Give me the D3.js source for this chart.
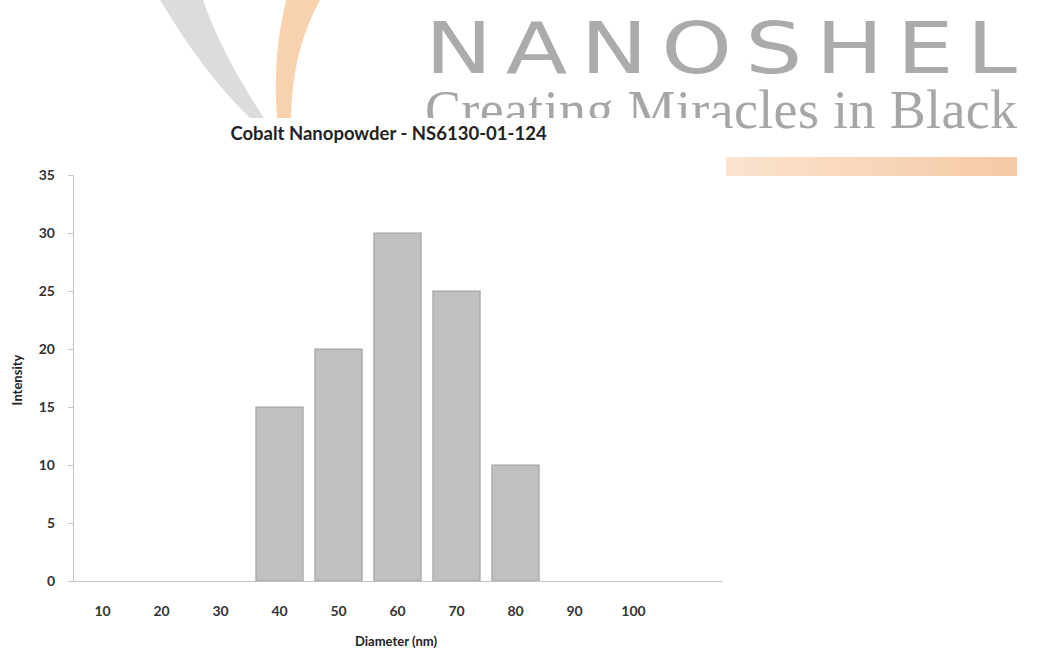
<!DOCTYPE html>
<html>
<head>
<meta charset="utf-8">
<script src="https://cdn.jsdelivr.net/npm/d3@7"></script>
<style>
  html, body { margin: 0; padding: 0; background: #fff; }
  svg { display: block; }
</style>
</head>
<body>
<svg id="chart" width="1037" height="651"></svg>
<script>
// ---- data ----
const categories = ["10", "20", "30", "40", "50", "60", "70", "80", "90", "100", ""];
const intensity = [0, 0, 0, 15, 20, 30, 25, 10, 0, 0, 0];
const yTicks = [0, 5, 10, 15, 20, 25, 30, 35];
const chartTitle = "Cobalt Nanopowder - NS6130-01-124";
const xTitle = "Diameter (nm)";
const yTitle = "Intensity";
const brandName = "NANOSHEL";
const brandTagline = "Creating Miracles in Black";

const svg = d3.select("#chart");

// ---- watermark / logo ----
const logo = svg.append("g");
logo.append("path")
  .attr("d", "M160,0 Q205,75 250,118 L264,118 Q222,55 203,0 Z")
  .attr("fill", "#dcdcdc");
logo.append("path")
  .attr("d", "M286,0 Q272,60 277,118 L291,118 Q292,50 320,0 Z")
  .attr("fill", "#f8d2ae");
logo.append("text")
  .attr("transform", "translate(425,73) scale(1.25,1)")
  .attr("font-family", "DejaVu Sans")
  .attr("font-size", 72)
  .attr("fill", "#ababab")
  .attr("textLength", 473.6)
  .attr("lengthAdjust", "spacing")
  .text(brandName);
logo.append("text")
  .attr("x", 425).attr("y", 128)
  .attr("font-family", "Liberation Serif")
  .attr("font-size", 54)
  .attr("fill", "#a6a6a6")
  .attr("textLength", 592)
  .attr("lengthAdjust", "spacing")
  .text(brandTagline);
const defs = svg.append("defs");
const grad = defs.append("linearGradient").attr("id", "bar-grad");
grad.append("stop").attr("offset", "0%").attr("stop-color", "#fbe3cf");
grad.append("stop").attr("offset", "100%").attr("stop-color", "#f5c9a5");
logo.append("rect")
  .attr("x", 726).attr("y", 157).attr("width", 291).attr("height", 19)
  .attr("fill", "url(#bar-grad)");

// chart panel covering the watermark
svg.append("rect")
  .attr("x", 0).attr("y", 118).attr("width", 725).attr("height", 533)
  .attr("fill", "#fff");

// ---- scales ----
const x = d3.scaleBand()
  .domain(categories)
  .range([73, 722])
  .paddingInner(0.2)
  .paddingOuter(0.1);
const y = d3.scaleLinear()
  .domain([0, 35])
  .range([581, 175]);

const fontFam = "Lato, 'Open Sans', sans-serif";

// ---- bars ----
svg.append("g").selectAll("rect")
  .data(categories.map((c, i) => ({ c, v: intensity[i] })).filter(d => d.v > 0))
  .join("rect")
  .attr("x", d => x(d.c))
  .attr("y", d => y(d.v))
  .attr("width", x.bandwidth())
  .attr("height", d => y(0) - y(d.v))
  .attr("fill", "#c0c0c0")
  .attr("stroke", "#9e9e9e")
  .attr("stroke-width", 1);

// ---- axes ----
const yAxis = svg.append("g")
  .attr("transform", "translate(73,0)")
  .call(d3.axisLeft(y).tickValues(yTicks).tickSize(5).tickPadding(13).tickSizeOuter(0));
yAxis.select(".domain").attr("stroke", "#c4c4c4");
yAxis.selectAll(".tick line").attr("stroke", "#c4c4c4");
yAxis.selectAll("text")
  .attr("font-family", fontFam).attr("font-size", 14).attr("font-weight", "bold")
  .attr("fill", "#333");

const xAxis = svg.append("g")
  .attr("transform", "translate(0,581)")
  .call(d3.axisBottom(x).tickSize(0).tickPadding(25));
xAxis.select(".domain").attr("stroke", "#c4c4c4");
xAxis.selectAll("text")
  .attr("font-family", fontFam).attr("font-size", 14).attr("font-weight", "bold")
  .attr("fill", "#333");

// ---- titles ----
svg.append("text")
  .attr("x", 388.5).attr("y", 140)
  .attr("text-anchor", "middle")
  .attr("font-family", fontFam).attr("font-size", 18.5).attr("font-weight", "bold")
  .attr("fill", "#222")
  .text(chartTitle);
svg.append("text")
  .attr("x", 396).attr("y", 646)
  .attr("text-anchor", "middle")
  .attr("font-family", fontFam).attr("font-size", 13).attr("font-weight", "bold")
  .attr("fill", "#222")
  .text(xTitle);
svg.append("text")
  .attr("transform", "translate(22,380) rotate(-90)")
  .attr("text-anchor", "middle")
  .attr("font-family", fontFam).attr("font-size", 13).attr("font-weight", "bold")
  .attr("fill", "#222")
  .text(yTitle);
</script>
</body>
</html>
